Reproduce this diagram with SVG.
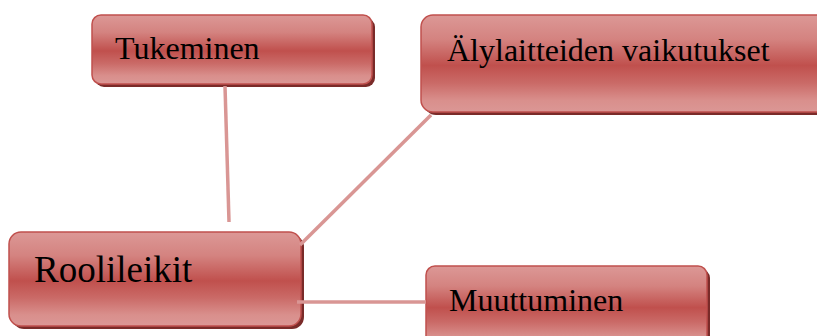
<svg xmlns="http://www.w3.org/2000/svg" width="817" height="336" viewBox="0 0 817 336">
<style>
.box{fill:url(#g);stroke:#c0504d;stroke-width:1.5}
.sh{fill:#7a2b29}
.t{font-family:"Liberation Serif","Times New Roman",serif;fill:#000}
.c{stroke:#d99694;stroke-width:3.5;fill:none}
</style>
<defs>
<linearGradient id="g" x1="0" y1="0" x2="0" y2="1">
<stop offset="0" stop-color="#dc9896"/>
<stop offset="0.25" stop-color="#d48380"/>
<stop offset="0.52" stop-color="#c0504d"/>
<stop offset="0.7" stop-color="#ca6a67"/>
<stop offset="0.88" stop-color="#d98f8c"/>
<stop offset="1" stop-color="#db9795"/>
</linearGradient>
</defs>
<rect width="817" height="336" fill="#fff"/>
<g id="node-tukeminen">
<rect class="sh" x="95" y="18" width="280" height="69" rx="9"/>
<rect class="box" x="92" y="15" width="280" height="69" rx="9"/>
<text class="t" x="115" y="59" font-size="32">Tukeminen</text>
</g>
<g id="node-alylaitteiden">
<rect class="sh" x="424" y="18" width="410" height="97" rx="12"/>
<rect class="box" x="421" y="15" width="410" height="97" rx="12"/>
<text class="t" x="447" y="61" font-size="32">Älylaitteiden vaikutukset</text>
</g>
<g id="node-roolileikit">
<rect class="sh" x="12" y="235" width="292" height="94" rx="12"/>
<rect class="box" x="9" y="232" width="292" height="94" rx="12"/>
<text class="t" x="34" y="282" font-size="37">Roolileikit</text>
</g>
<g id="node-muuttuminen">
<rect class="sh" x="429" y="269" width="281" height="80" rx="9"/>
<rect class="box" x="426" y="266" width="281" height="80" rx="9"/>
<text class="t" x="449" y="311" font-size="32">Muuttuminen</text>
</g>
<g id="connectors">
<line class="c" x1="225" y1="86" x2="229" y2="222"/>
<line class="c" x1="431" y1="115" x2="300" y2="245"/>
<line class="c" x1="297" y1="302" x2="426" y2="302"/>
</g>
</svg>
